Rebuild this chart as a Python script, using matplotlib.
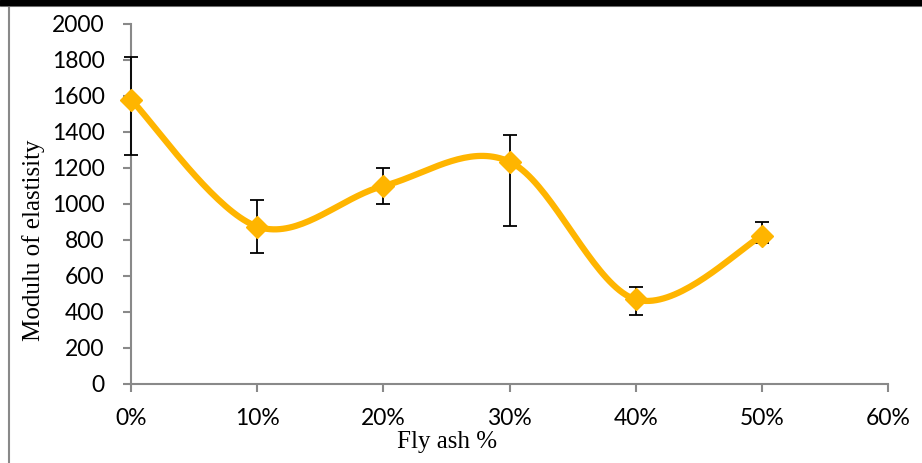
import matplotlib
matplotlib.use("Agg")
import matplotlib.pyplot as plt
from matplotlib.lines import Line2D
import numpy as np

fly_ash = [0, 10, 20, 30, 40, 50]
modulus = [1580, 875, 1100, 1235, 470, 822]
err_up = [238, 147, 98, 146, 67, 78]
err_down = [306, 148, 100, 356, 89, 40]
x_ticks = [0, 10, 20, 30, 40, 50, 60]
y_ticks = [0, 200, 400, 600, 800, 1000, 1200, 1400, 1600, 1800, 2000]

gold = '#FFB500'
axis_grey = '#898989'


def smooth_curve(xs, ys, n=40):
    # catmull-rom style bezier, like the office "smoothed line" option
    xs = np.asarray(xs, float)
    ys = np.asarray(ys, float)
    pts = np.column_stack([xs, ys])
    out = []
    for i in range(len(pts) - 1):
        p0 = pts[i - 1] if i > 0 else pts[i]
        p1 = pts[i]
        p2 = pts[i + 1]
        p3 = pts[i + 2] if i + 2 < len(pts) else pts[i + 1]
        c1 = p1 + (p2 - p0) / 6.0
        c2 = p2 - (p3 - p1) / 6.0
        t = np.linspace(0, 1, n)[:, None]
        seg = ((1 - t) ** 3) * p1 + 3 * ((1 - t) ** 2) * t * c1 + 3 * (1 - t) * t ** 2 * c2 + t ** 3 * p2
        out.append(seg if i == 0 else seg[1:])
    out = np.vstack(out)
    return out[:, 0], out[:, 1]


fig = plt.figure(figsize=(9.22, 4.63), dpi=100)
ax = fig.add_axes([131 / 922, 79 / 463, 757 / 922, 360 / 463])

eb = ax.errorbar(fly_ash, modulus, yerr=[err_down, err_up], fmt='none',
                 ecolor='black', elinewidth=1.3, capsize=5, capthick=1.3, zorder=3)
for art in eb.lines[1] + eb.lines[2]:
    art.set_clip_on(False)
sx, sy = smooth_curve(fly_ash, modulus)
ax.plot(sx, sy, color=gold, lw=4.5, solid_capstyle='round', zorder=4, clip_on=False)
ax.plot(fly_ash, modulus, ls='none', marker='D', ms=11, color=gold, zorder=5, clip_on=False)

ax.set_xlim(0, 60)
ax.set_ylim(0, 2000)
ax.set_xticks(x_ticks)
ax.set_xticklabels([f'{v}%' for v in x_ticks])
ax.set_yticks(y_ticks)

for s in ['top', 'right']:
    ax.spines[s].set_visible(False)
for s in ['left', 'bottom']:
    ax.spines[s].set_color(axis_grey)
    ax.spines[s].set_linewidth(1.5)
ax.tick_params(axis='both', direction='out', length=6, width=1.5, color=axis_grey,
               labelsize=16.5, labelcolor='black')
ax.tick_params(axis='x', pad=11)
ax.tick_params(axis='y', pad=13)
for lab in ax.get_xticklabels() + ax.get_yticklabels():
    lab.set_family('Lato')

ax.set_xlabel('Fly ash %', family='Liberation Serif', fontsize=18)
ax.set_ylabel('Modulu of elastisity', family='Liberation Serif', fontsize=18)
ax.xaxis.set_label_coords(0.417, -0.13)
ax.yaxis.set_label_coords(-0.114, 0.40)

# frame pieces from the source document
fig.patches.append(plt.Rectangle((0, 1 - 5 / 463), 1, 5 / 463, transform=fig.transFigure,
                                 color='black', zorder=10))
fig.lines.append(Line2D([0, 1], [1 - 6 / 463, 1 - 6 / 463], transform=fig.transFigure,
                        color=axis_grey, lw=1.5))
fig.lines.append(Line2D([9 / 922, 9 / 922], [0, 1 - 6 / 463], transform=fig.transFigure,
                        color=axis_grey, lw=1.5))

fig.savefig('out.png', dpi=100)
